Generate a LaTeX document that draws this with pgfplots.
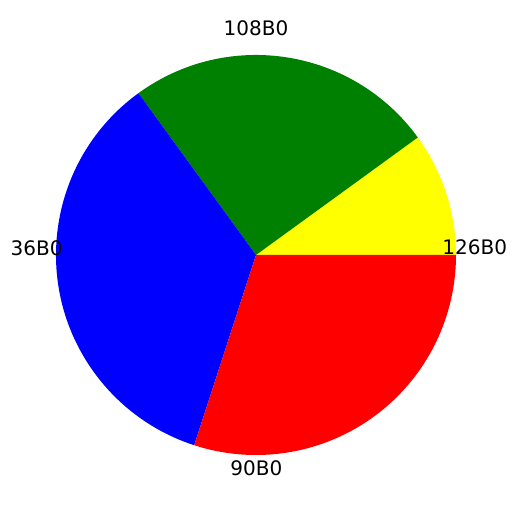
\documentclass[border=0pt]{standalone}
\usepackage{fontspec}
\setmainfont{DejaVu Sans}
\usepackage{pgfplots}
\pgfplotsset{compat=1.18}
\definecolor{mplgreen}{RGB}{0,128,0}
\definecolor{mplyellow}{RGB}{255,255,0}
\definecolor{mplblue}{RGB}{0,0,255}
\definecolor{mplred}{RGB}{255,0,0}
\begin{document}
\begin{tikzpicture}
\begin{axis}[
    x=100pt, y=100pt,
    xmin=-1.28, xmax=1.28,
    ymin=-1.285, ymax=1.275,
    hide axis,
    clip=false,
    scale only axis,
]
% slices: shares 10, 25, 35, 30 percent, counter-clockwise from 0 degrees
\path (axis cs:-1.28,-1.285) rectangle (axis cs:1.28,1.275);
\fill[mplyellow] (axis cs:0,0) -- (axis cs:1,0) arc[start angle=0, end angle=36, radius=100pt] -- cycle;
\fill[mplgreen]  (axis cs:0,0) -- (axis cs:0.809017,0.587785) arc[start angle=36, end angle=126, radius=100pt] -- cycle;
\fill[mplblue]   (axis cs:0,0) -- (axis cs:-0.587785,0.809017) arc[start angle=126, end angle=252, radius=100pt] -- cycle;
\fill[mplred]    (axis cs:0,0) -- (axis cs:-0.309017,-0.951057) arc[start angle=252, end angle=360, radius=100pt] -- cycle;
\begin{scope}[every node/.style={inner sep=0pt, font=\fontsize{10}{12}\selectfont}]
\node[anchor=base west] at (axis cs:0.93,0) {126B0};
\node[anchor=base east] at (axis cs:-0.965,-0.005) {36B0};
\node[anchor=base] at (axis cs:0,1.095) {108B0};
\node[anchor=base] at (axis cs:0.002,-1.105) {90B0};
\end{scope}
\end{axis}
\end{tikzpicture}
\end{document}
